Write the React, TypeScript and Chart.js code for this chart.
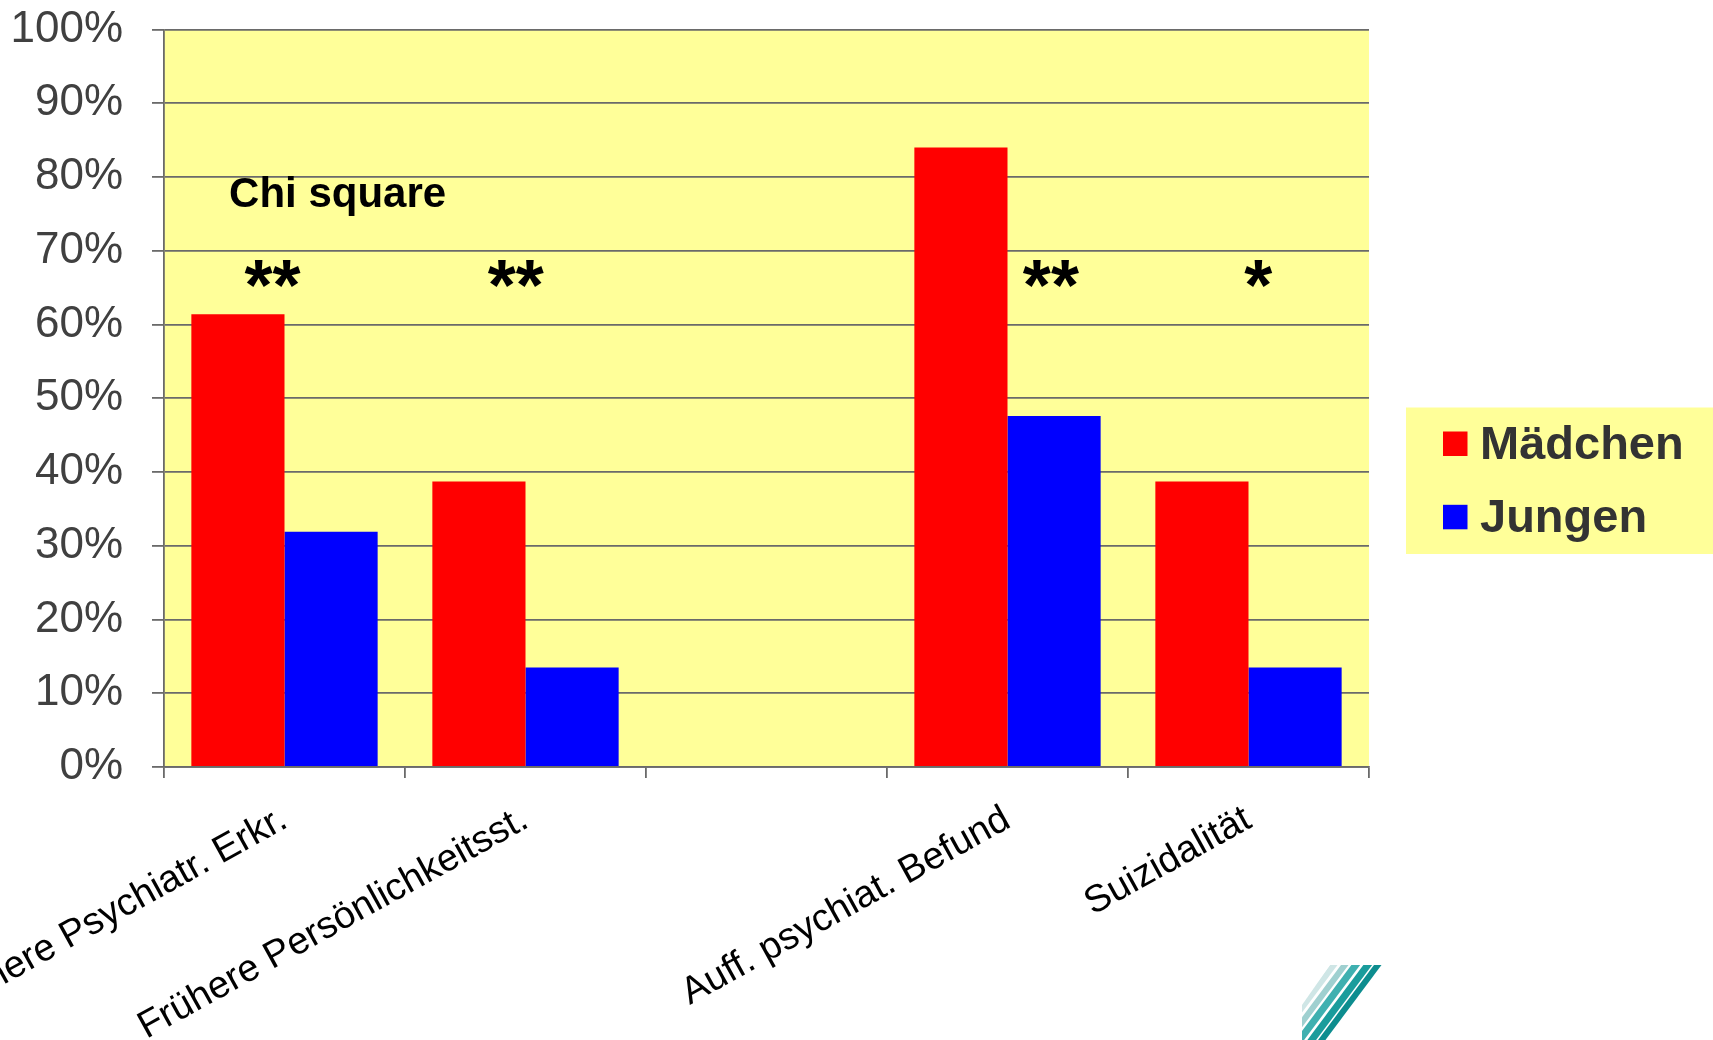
import { useEffect, useRef } from "react";
import { Chart, registerables } from "chart.js";

Chart.register(...registerables);

// ---- data ----
const categories = [
  "Frühere Psychiatr. Erkr.",
  "Frühere Persönlichkeitsst.",
  "",
  "Auff. psychiat. Befund",
  "Suizidalität",
];
const seriesNames = ["Mädchen", "Jungen"];
const maedchen = [61.4, 38.7, null, 84.0, 38.7];
const jungen = [31.9, 13.5, null, 47.6, 13.5];
const yMin = 0;
const yMax = 100;
const yStep = 10;
const significance = ["**", "**", "", "**", "*"];
const testLabel = "Chi square";

// ---- annotation placement (category units / value units) ----
const sigXPos = [-0.05, 0.96, 2, 3.18, 4.04];
const sigYPos = 66.9;
const testXPos = -0.23;
const testYPos = 75.9;

const FONT = '"Liberation Sans", Arial, Helvetica, sans-serif';
const PLOT_BG = "#FFFF99";
const GRID = "#6a6a6a";
const COLORS = ["#FF0000", "#0000FF"];

const backgroundPlugin = {
  id: "plotBg",
  beforeDraw(chart: any) {
    const { ctx, chartArea } = chart;
    ctx.save();
    ctx.fillStyle = PLOT_BG;
    ctx.fillRect(
      chartArea.left,
      chartArea.top,
      chartArea.right - chartArea.left,
      chartArea.bottom - chartArea.top
    );
    ctx.restore();
  },
};

const annotationPlugin = {
  id: "annots",
  afterDatasetsDraw(chart: any) {
    const { ctx, scales } = chart;
    const x = scales.x;
    const y = scales.y;
    ctx.save();
    ctx.fillStyle = "#000";
    ctx.font = `bold 42px ${FONT}`;
    ctx.textAlign = "left";
    ctx.textBaseline = "alphabetic";
    ctx.fillText(testLabel, x.getPixelForValue(testXPos), y.getPixelForValue(testYPos));
    ctx.font = `bold 72px ${FONT}`;
    ctx.textAlign = "center";
    significance.forEach((s, i) => {
      if (!s) return;
      const m = ctx.measureText(s);
      const cy = y.getPixelForValue(sigYPos);
      const base = cy + (m.actualBoundingBoxAscent - m.actualBoundingBoxDescent) / 2;
      ctx.fillText(s, x.getPixelForValue(sigXPos[i]), base);
    });
    ctx.restore();
  },
};

const legendPlugin = {
  id: "customLegend",
  afterDraw(chart: any) {
    const { ctx, chartArea, width } = chart;
    const left = chartArea.right + 37;
    const top = 407.5;
    const boxH = 146.5;
    ctx.save();
    ctx.fillStyle = PLOT_BG;
    ctx.fillRect(left, top, width - left, boxH);
    ctx.font = `bold 47px ${FONT}`;
    ctx.textAlign = "left";
    ctx.textBaseline = "alphabetic";
    chart.data.datasets.forEach((ds: any, i: number) => {
      const rowY = top + 24 + i * 73.3;
      ctx.fillStyle = ds.backgroundColor;
      ctx.fillRect(left + 37, rowY, 24.5, 24.5);
      ctx.fillStyle = "#333333";
      ctx.fillText(ds.label, left + 74, rowY + 27.5);
    });
    ctx.restore();
  },
};

const logoPlugin = {
  id: "logo",
  afterDraw(chart: any) {
    const { ctx } = chart;
    ctx.save();
    ctx.beginPath();
    ctx.moveTo(1302, 1040);
    ctx.lineTo(1302, 1005);
    ctx.lineTo(1330, 965);
    ctx.lineTo(1382, 965);
    ctx.lineTo(1382, 1040);
    ctx.closePath();
    ctx.clip();
    const stripes = [
      { x: 1336, c: "#cfe6e6", w: 6 },
      { x: 1347, c: "#9fd0d0", w: 6 },
      { x: 1358, c: "#3fb0b0", w: 7 },
      { x: 1370, c: "#1a9c9c", w: 7 },
      { x: 1380, c: "#0d8d8f", w: 6 },
    ];
    stripes.forEach((s) => {
      ctx.strokeStyle = s.c;
      ctx.lineWidth = s.w;
      ctx.beginPath();
      ctx.moveTo(s.x, 962);
      ctx.lineTo(s.x - 62, 1045);
      ctx.stroke();
    });
    ctx.restore();
  },
};

export default function App() {
  const ref = useRef<HTMLCanvasElement | null>(null);

  useEffect(() => {
    if (!ref.current) return;
    const chart = new Chart(ref.current, {
      type: "bar",
      data: {
        labels: categories,
        datasets: [
          {
            label: seriesNames[0],
            data: maedchen,
            backgroundColor: COLORS[0],
            borderWidth: 0,
            categoryPercentage: 0.773,
            barPercentage: 1,
          },
          {
            label: seriesNames[1],
            data: jungen,
            backgroundColor: COLORS[1],
            borderWidth: 0,
            categoryPercentage: 0.773,
            barPercentage: 1,
          },
        ],
      },
      options: {
        animation: false,
        responsive: true,
        maintainAspectRatio: false,
        layout: { padding: { top: 29.5, left: 0, right: 344, bottom: 0 } },
        plugins: {
          legend: { display: false },
          tooltip: { enabled: false },
          title: { display: false },
        },
        scales: {
          x: {
            offset: true,
            grid: {
              display: true,
              offset: true,
              drawOnChartArea: false,
              drawTicks: true,
              tickLength: 11,
              color: GRID,
              lineWidth: 1.8,
            },
            border: { display: true, color: GRID, width: 1.8 },
            ticks: {
              autoSkip: false,
              minRotation: 29,
              maxRotation: 29,
              padding: 19,
              color: "#000000",
              font: { family: FONT, size: 38 },
            },
            afterFit: (scale: any) => {
              scale.height = 273;
              scale.paddingLeft = 0;
              scale.paddingRight = 0;
            },
          },
          y: {
            min: yMin,
            max: yMax,
            grid: {
              color: GRID,
              lineWidth: 1.8,
              tickLength: 12,
              drawTicks: true,
            },
            border: { display: true, color: GRID, width: 1.8 },
            ticks: {
              stepSize: yStep,
              padding: 29,
              color: "#404040",
              font: { family: FONT, size: 44 },
              callback: (v: any) => `${v}%`,
            },
            afterFit: (scale: any) => {
              scale.width = 164;
              scale.paddingTop = 0;
              scale.paddingBottom = 0;
            },
          },
        },
      },
      plugins: [backgroundPlugin, annotationPlugin, legendPlugin, logoPlugin],
    });
    return () => chart.destroy();
  }, []);

  return (
    <div style={{ position: "absolute", left: 0, top: 0, width: 1713, height: 1040, background: "#fff" }}>
      <canvas ref={ref} />
    </div>
  );
}
